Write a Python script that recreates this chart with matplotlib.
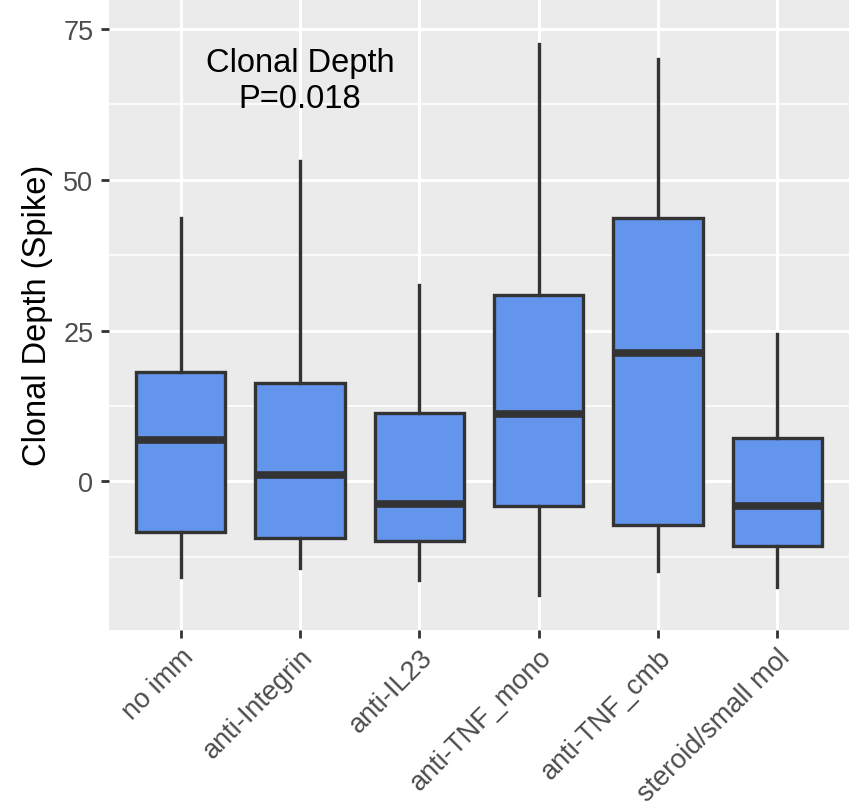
import matplotlib.pyplot as plt
from matplotlib.ticker import MultipleLocator

plt.rcParams['font.family'] = ['Liberation Sans', 'DejaVu Sans']

# Donnees (statistiques des boites)
groupes = ["no imm", "anti-Integrin", "anti-IL23", "anti-TNF_mono",
           "anti-TNF_cmb", "steroid/small mol"]
moustache_bas = [-15.9, -14.4, -16.3, -18.8, -14.8, -17.4]
q1 = [-8.4, -9.3, -9.9, -4.1, -7.2, -10.7]
mediane = [6.8, 1.1, -3.8, 11.1, 21.2, -4.0]
q3 = [18.2, 16.3, 11.4, 30.9, 43.6, 7.2]
moustache_haut = [43.6, 53.0, 32.5, 72.4, 69.9, 24.5]
y_ticks = [0, 25, 50, 75]

stats = []
for i, g in enumerate(groupes):
    stats.append(dict(label=g, whislo=moustache_bas[i], q1=q1[i], med=mediane[i],
                      q3=q3[i], whishi=moustache_haut[i]))

fig = plt.figure(figsize=(8.51, 8.12), dpi=100)
ax = fig.add_axes([109 / 851, (812 - 631) / 812, 740 / 851, 631 / 812])
ax.set_facecolor("#EBEBEB")

positions = list(range(1, len(groupes) + 1))
ax.bxp(stats, positions=positions, widths=0.75, patch_artist=True,
       showcaps=False, showfliers=False,
       boxprops=dict(facecolor="#6495ED", edgecolor="#333333", linewidth=2.4),
       medianprops=dict(color="#333333", linewidth=5.5, solid_capstyle="butt"),
       whiskerprops=dict(color="#333333", linewidth=2.4))

# Axes et grille facon ggplot
ax.set_xlim(0.4, 6.6)
ax.set_ylim(-24.6, 79.9)
ax.set_yticks(y_ticks)
ax.yaxis.set_minor_locator(MultipleLocator(12.5))
ax.set_xticks(positions)
ax.set_xticklabels(groupes, rotation=45, ha="right", va="top",
                   rotation_mode="anchor", fontsize=19.5, color="#4D4D4D")
ax.tick_params(axis="y", labelsize=19.5, labelcolor="#4D4D4D", pad=5.5)
ax.tick_params(axis="both", which="major", length=5.8, width=2.0, color="#333333")
ax.tick_params(axis="x", pad=4)
ax.tick_params(axis="y", which="minor", length=0)
ax.set_axisbelow(True)
ax.grid(which="major", color="white", linewidth=2.2)
ax.grid(which="minor", axis="y", color="white", linewidth=1.1)
for s in ax.spines.values():
    s.set_visible(False)

ax.set_ylabel("Clonal Depth (Spike)", fontsize=23.5, color="black")
ax.yaxis.set_label_coords(-0.097, 0.5)
ax.yaxis.label.set_va("center")

ax.text(2, 66.4, "Clonal Depth\nP=0.018", ha="center", va="center",
        fontsize=23.5, linespacing=1.2)

plt.savefig("out.png", dpi=100)
